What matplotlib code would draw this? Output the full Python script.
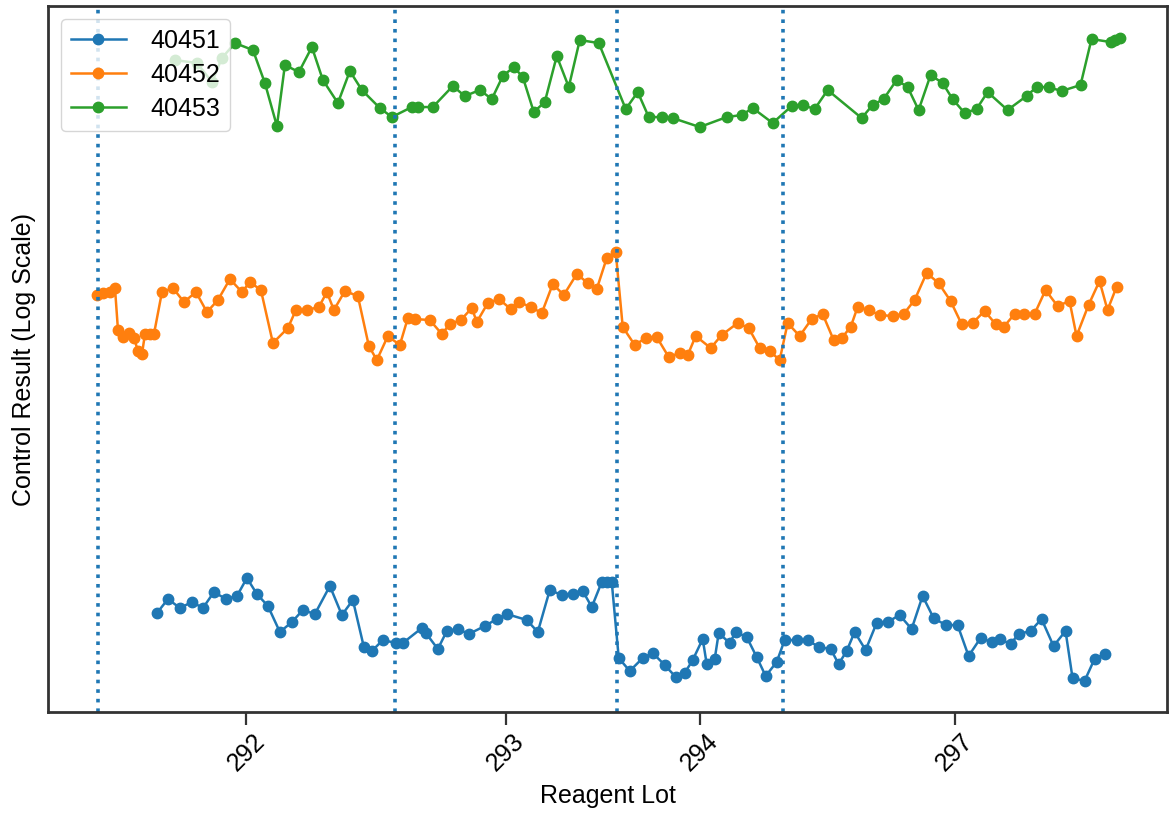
import numpy as np
import matplotlib
matplotlib.use("Agg")
import matplotlib.pyplot as plt

plt.rcParams['font.family'] = ['Liberation Sans', 'DejaVu Sans']

# lot boundaries (run day) and lot names
lot_starts = [5.0, 34.7, 56.9, 73.5]
lot_end = 107.9
lot_names = ["292", "293", "294", "297"]

# 40451 (low control): run day, log10(result)
x_40451 = [10.9, 12.0, 13.2, 14.4, 15.5, 16.6, 17.8, 18.9, 19.9, 20.9, 22.0, 23.2, 24.4, 25.5,
           26.7, 28.2, 29.4, 30.5, 31.6, 32.4, 33.5, 34.8, 35.5, 37.4, 37.8, 39.0, 39.9, 41.0,
           42.1, 43.7, 44.9, 45.9, 47.9, 49.0, 50.2, 51.4, 52.5, 53.5, 54.4, 55.4, 55.9, 56.4,
           57.1, 58.2, 59.5, 60.5, 61.7, 62.8, 63.7, 64.5, 65.5, 65.9, 66.7, 67.1, 68.2, 68.8,
           69.9, 70.9, 71.8, 72.9, 73.7, 74.9, 76.0, 77.1, 78.3, 79.1, 79.9, 80.7, 81.8, 82.9,
           84.0, 85.2, 86.4, 87.5, 88.6, 89.8, 91.0, 92.1, 93.3, 94.4, 95.2, 96.3, 97.1, 98.3,
           99.4, 100.6, 101.8, 102.5, 103.7, 104.7, 105.7]
log_40451 = [0.748, 0.804, 0.768, 0.792, 0.768, 0.832, 0.804, 0.816, 0.888, 0.824, 0.776, 0.672,
             0.712, 0.760, 0.744, 0.856, 0.740, 0.800, 0.612, 0.596, 0.640, 0.628, 0.628, 0.688,
             0.668, 0.604, 0.676, 0.684, 0.664, 0.696, 0.724, 0.744, 0.720, 0.672, 0.840, 0.820,
             0.824, 0.836, 0.772, 0.872, 0.872, 0.872, 0.568, 0.516, 0.568, 0.588, 0.540, 0.492,
             0.508, 0.560, 0.644, 0.544, 0.564, 0.668, 0.628, 0.672, 0.652, 0.572, 0.496, 0.552,
             0.640, 0.640, 0.640, 0.612, 0.604, 0.544, 0.596, 0.672, 0.600, 0.708, 0.712, 0.740,
             0.684, 0.816, 0.728, 0.700, 0.700, 0.576, 0.648, 0.632, 0.644, 0.624, 0.664, 0.676,
             0.724, 0.616, 0.676, 0.488, 0.476, 0.564, 0.584]

# 40452 (mid control)
x_40452 = [4.9, 5.5, 6.2, 6.7, 7.0, 7.5, 8.1, 8.6, 9.0, 9.4, 9.7, 10.2, 10.6, 11.4, 12.5, 13.6,
           14.8, 15.9, 17.0, 18.2, 19.4, 20.2, 21.3, 22.5, 24.0, 24.8, 25.9, 27.1, 27.9, 28.6,
           29.7, 31.0, 32.1, 32.9, 34.0, 35.2, 36.0, 36.7, 38.2, 39.4, 40.2, 41.3, 42.4, 42.9,
           44.0, 45.1, 46.3, 47.1, 48.3, 49.4, 50.5, 51.6, 52.9, 54.0, 54.9, 55.9, 56.8, 57.5,
           58.7, 59.8, 60.9, 62.1, 63.2, 64.0, 64.8, 66.3, 67.4, 69.0, 70.1, 71.2, 72.2, 73.2,
           74.0, 75.2, 76.4, 77.5, 78.6, 79.4, 80.3, 81.0, 82.1, 83.2, 84.5, 85.6, 86.7, 87.9,
           89.1, 90.3, 91.4, 92.5, 93.7, 94.8, 95.6, 96.7, 97.6, 98.7, 99.8, 101.0, 102.2, 102.9,
           104.1, 105.2, 106.0, 106.9]
log_40452 = [2.020, 2.028, 2.032, 2.048, 1.880, 1.852, 1.868, 1.848, 1.796, 1.784, 1.864, 1.864,
             1.864, 2.032, 2.048, 1.992, 2.032, 1.952, 2.000, 2.084, 2.032, 2.072, 2.040, 1.828,
             1.888, 1.960, 1.960, 1.972, 2.032, 1.960, 2.036, 2.016, 1.816, 1.760, 1.856, 1.820,
             1.928, 1.924, 1.920, 1.864, 1.904, 1.920, 1.968, 1.912, 1.988, 2.004, 1.964, 1.992,
             1.972, 1.948, 2.064, 2.020, 2.104, 2.068, 2.044, 2.168, 2.192, 1.892, 1.820, 1.848,
             1.852, 1.772, 1.788, 1.780, 1.856, 1.808, 1.860, 1.908, 1.888, 1.808, 1.796, 1.760,
             1.908, 1.856, 1.924, 1.944, 1.840, 1.848, 1.892, 1.972, 1.960, 1.940, 1.936, 1.944,
             2.000, 2.108, 2.068, 1.996, 1.904, 1.908, 1.956, 1.904, 1.892, 1.944, 1.944, 1.944,
             2.040, 1.976, 1.996, 1.856, 1.980, 2.076, 1.960, 2.052]

# 40453 (high control)
x_40453 = [12.7, 14.9, 16.4, 17.4, 18.7, 20.5, 21.7, 22.9, 23.7, 25.1, 26.4, 27.5, 29.0, 30.2,
           31.4, 33.2, 34.4, 36.4, 37.0, 38.5, 40.5, 41.7, 43.2, 44.4, 45.5, 46.6, 47.5, 48.6,
           49.7, 50.9, 52.1, 53.2, 55.1, 57.8, 59.0, 60.1, 61.4, 62.5, 65.2, 67.9, 69.4, 70.5,
           72.5, 74.4, 75.5, 76.7, 78.0, 81.4, 82.5, 83.6, 84.9, 86.0, 87.1, 88.3, 89.5, 90.5,
           91.7, 92.9, 94.0, 96.0, 97.9, 98.9, 100.1, 101.4, 103.3, 104.4, 106.3, 106.7, 107.2]
log_40453 = [2.960, 2.948, 2.872, 2.968, 3.028, 3.000, 2.868, 2.696, 2.940, 2.912, 3.012, 2.880,
             2.788, 2.916, 2.840, 2.768, 2.732, 2.772, 2.772, 2.772, 2.856, 2.816, 2.840, 2.804,
             2.896, 2.932, 2.892, 2.752, 2.792, 2.976, 2.852, 3.040, 3.028, 2.764, 2.832, 2.732,
             2.732, 2.728, 2.692, 2.732, 2.740, 2.768, 2.708, 2.776, 2.780, 2.764, 2.840, 2.728,
             2.780, 2.804, 2.880, 2.852, 2.760, 2.900, 2.868, 2.804, 2.748, 2.764, 2.832, 2.760,
             2.816, 2.852, 2.852, 2.836, 2.860, 3.044, 3.032, 3.040, 3.048]

series = [("40451", x_40451, log_40451, "#1f77b4"),
          ("40452", x_40452, log_40452, "#ff7f0e"),
          ("40453", x_40453, log_40453, "#2ca02c")]

fig = plt.figure(figsize=(11.71, 8.17), dpi=100)
ax = fig.add_axes([0.041, 0.1285, 0.956, 0.8641])

for name, xs, ys, c in series:
    ax.plot(xs, 10 ** np.array(ys), "-o", color=c, lw=1.8, ms=7.5, label=name)

for s in lot_starts:
    ax.axvline(s, color="#1f77b4", ls=":", lw=2.6)

bounds = lot_starts + [lot_end]
mids = [(bounds[i] + bounds[i + 1]) / 2 for i in range(len(lot_names))]
ax.set_xticks(mids)
ax.set_xticklabels(lot_names, rotation=45, fontsize=18)

ax.set_yscale("log")
ax.set_xlim(0, 112)
ax.set_ylim(10 ** 0.352, 10 ** 3.176)
ax.set_yticks([])
ax.minorticks_off()
ax.tick_params(axis="x", length=9, width=1.6, color="#333333", pad=3)
ax.tick_params(axis="y", left=False, which="both", labelleft=False)

for sp in ax.spines.values():
    sp.set_color("#333333")
    sp.set_linewidth(2.0)

ax.set_xlabel("Reagent Lot", fontsize=18, labelpad=6)
ax.set_ylabel("Control Result (Log Scale)", fontsize=18, labelpad=9)

ax.legend(loc="upper left", fontsize=18, handlelength=2.2, borderpad=0.4,
          labelspacing=0.4, handletextpad=1.0, framealpha=0.8)

fig.savefig("out.png", dpi=100)
